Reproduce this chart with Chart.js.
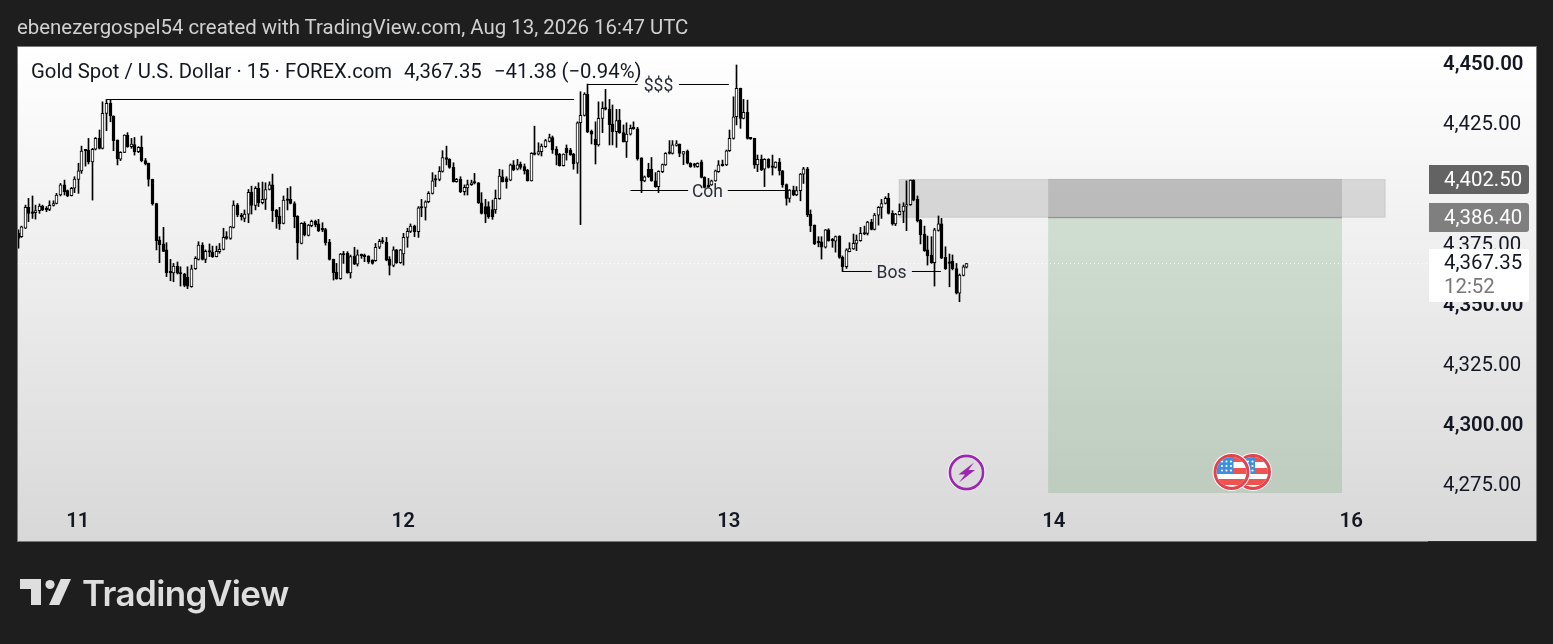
<!DOCTYPE html>
<html>
<head>
<meta charset="utf-8">
<title>Gold Spot / U.S. Dollar</title>
<script src="https://cdn.jsdelivr.net/npm/chart.js@4"></script>
<style>
    html, body { margin: 0; padding: 0; background: #1e1e1e; width: 1553px; height: 644px; overflow: hidden; }
    canvas { position: absolute; left: 0; top: 0; }
    #byline { position: absolute; left: 17px; top: 15px; font: 20.4px Roboto, sans-serif; color: #d1d1d1; line-height: 24px; white-space: nowrap; }
    #logoText { position: absolute; left: 82px; top: 571px; font: 600 35px Inter, sans-serif; color: #dedede; line-height: 44px; letter-spacing: -0.6px; white-space: nowrap; }
    #logoIcon { position: absolute; left: 0; top: 560px; }
</style>
</head>
<body>
<canvas id="goldChart" width="1553" height="644"></canvas>
<div id="byline">ebenezergospel54 created with TradingView.com, Aug 13, 2026 16:47 UTC</div>
<svg id="logoIcon" width="80" height="60" fill="#dedede">
    <path d="M20 19H41V45H31V29H20Z"/>
    <circle cx="50" cy="24.5" r="4.6"/>
    <path d="M60.7 19H71L59.3 45H49Z"/>
</svg>
<div id="logoText">TradingView</div>
<script>
const opens = [
    4379.9,4378.5,4382.0,4390.7,4388.5,4388.5,4389.3,4391.2,4390.1,4389.8,
    4391.5,4392.3,4395.8,4400.0,4397.6,4395.5,4398.6,4402.3,4405.8,4414.5,
    4414.5,4409.6,4414.8,4419.3,4415.2,4429.7,4433.9,4428.6,4418.6,4410.7,
    4413.5,4420.6,4415.9,4416.7,4413.8,4415.6,4410.1,4409.0,4402.3,4392.3,
    4377.1,4375.5,4373.0,4363.8,4363.5,4366.3,4363.5,4363.0,4361.6,4357.7,
    4365.2,4369.1,4375.0,4369.1,4372.4,4372.1,4370.2,4372.3,4373.2,4378.5,
    4377.8,4382.4,4391.6,4387.5,4386.1,4387.9,4396.9,4391.5,4398.6,4392.6,
    4394.0,4398.1,4400.0,4389.6,4387.1,4384.0,4394.0,4394.0,4392.3,4387.1,
    4375.7,4384.0,4379.0,4383.1,4384.9,4383.8,4381.5,4381.5,4376.3,4369.1,
    4363.8,4361.1,4371.3,4371.6,4363.5,4370.5,4367.1,4370.9,4370.5,4370.5,
    4368.8,4368.5,4374.1,4376.6,4376.3,4369.1,4366.6,4373.0,4367.7,4371.3,
    4378.2,4380.7,4382.9,4380.6,4390.7,4390.7,4393.0,4396.5,4402.3,4402.3,
    4405.6,4411.4,4410.6,4407.3,4401.3,4402.3,4397.2,4398.8,4400.1,4400.9,
    4400.9,4392.6,4391.0,4391.0,4389.8,4389.6,4394.3,4403.4,4402.6,4402.0,
    4408.3,4406.5,4408.7,4407.6,4406.2,4401.7,4413.1,4412.8,4413.8,4415.9,
    4418.1,4419.7,4414.8,4412.8,4408.0,4415.3,4414.5,4412.8,4409.0,4425.8,
    4428.9,4437.7,4422.2,4418.9,4416.6,4427.6,4431.8,4431.5,4425.3,4422.1,
    4426.9,4421.7,4417.9,4421.1,4423.6,4423.3,4411.2,4401.7,4406.5,4406.5,
    4401.7,4399.3,4405.5,4408.3,4413.4,4413.1,4416.4,4417.0,4412.8,4414.1,
    4409.0,4408.4,4407.6,4409.6,4403.1,4399.9,4400.0,4401.7,4405.5,4408.3,
    4408.3,4414.2,4419.3,4428.3,4440.1,4427.6,4430.1,4419.3,4419.3,4408.3,
    4410.6,4406.5,4410.6,4407.6,4407.3,4409.5,4405.9,4400.1,4394.4,4397.9,
    4395.8,4397.6,4404.5,4406.7,4387.8,4383.3,4376.3,4376.4,4374.1,4381.3,
    4377.1,4376.6,4378.8,4369.9,4366.0,4372.3,4373.4,4375.7,4376.8,4379.9,
    4379.9,4384.6,4381.5,4387.4,4390.7,4392.3,4394.4,4388.2,4383.8,4387.6,
    4389.0,4391.2,4391.8,4402.0,4394.0,4385.4,4379.6,4373.0,4370.9,4367.7,
    4381.1,4383.8,4369.9,4367.7,4368.3,4365.3,4355.0,4362.4,4365.8
]
const highs = [
    4381.3,4382.9,4391.6,4394.4,4395.4,4391.6,4392.1,4391.6,4391.0,4393.4,
    4393.4,4396.5,4400.6,4402.0,4397.9,4399.0,4403.4,4409.0,4416.1,4414.6,
    4419.3,4415.2,4419.7,4422.8,4434.5,4435.5,4435.5,4428.7,4418.7,4413.8,
    4420.8,4421.7,4419.3,4419.7,4415.9,4420.3,4411.0,4409.1,4402.4,4392.4,
    4378.5,4382.4,4376.0,4369.1,4367.4,4368.0,4366.0,4363.3,4366.0,4366.7,
    4370.2,4376.4,4376.0,4373.0,4375.5,4374.6,4374.6,4375.7,4382.0,4380.6,
    4382.8,4393.4,4392.3,4388.2,4389.6,4398.1,4399.5,4399.3,4400.9,4401.2,
    4400.9,4401.3,4404.5,4389.8,4390.7,4395.4,4398.6,4399.3,4393.0,4387.2,
    4384.3,4384.7,4383.6,4385.4,4385.4,4385.7,4384.3,4382.0,4377.4,4369.2,
    4367.4,4371.6,4372.4,4372.3,4370.9,4374.1,4373.0,4371.3,4371.3,4370.6,
    4368.9,4375.7,4377.4,4378.2,4378.2,4370.2,4374.3,4373.2,4373.2,4379.9,
    4382.0,4383.8,4383.3,4391.0,4394.0,4393.4,4397.2,4405.1,4404.1,4407.6,
    4414.2,4416.1,4410.9,4409.2,4402.7,4403.4,4400.0,4402.0,4402.0,4404.8,
    4401.0,4396.8,4394.0,4393.0,4393.7,4397.9,4406.5,4406.2,4403.4,4408.7,
    4410.1,4410.6,4409.5,4408.7,4406.5,4413.4,4424.4,4417.5,4417.0,4418.9,
    4421.1,4420.3,4415.9,4413.1,4412.9,4416.6,4415.2,4413.1,4426.2,4438.7,
    4438.3,4441.9,4422.8,4426.2,4434.5,4434.5,4439.7,4435.5,4433.2,4431.4,
    4431.4,4424.9,4425.8,4424.9,4426.2,4423.9,4411.3,4403.7,4409.0,4411.4,
    4405.1,4405.9,4408.7,4413.4,4418.4,4418.4,4418.4,4417.0,4413.9,4414.5,
    4409.2,4409.0,4409.2,4410.3,4403.4,4402.7,4402.0,4406.2,4410.1,4410.3,
    4414.5,4422.8,4436.6,4449.8,4440.2,4435.5,4435.2,4419.4,4419.4,4412.4,
    4412.4,4410.9,4410.9,4412.4,4409.6,4411.0,4406.0,4400.4,4398.1,4399.5,
    4399.3,4404.8,4407.3,4407.3,4389.6,4383.4,4378.5,4378.5,4381.5,4381.8,
    4377.8,4378.8,4378.9,4370.5,4373.5,4376.0,4379.6,4379.2,4382.4,4382.9,
    4384.9,4385.7,4388.2,4391.0,4394.0,4395.1,4396.5,4389.3,4388.2,4392.1,
    4392.6,4401.7,4402.1,4402.1,4395.4,4385.7,4382.9,4378.8,4378.5,4382.0,
    4387.1,4386.1,4374.3,4371.3,4370.9,4367.4,4363.0,4366.7,4367.4
]
const lows = [
    4373.7,4378.2,4381.9,4384.7,4386.1,4385.8,4388.2,4389.3,4388.9,4389.3,
    4391.2,4392.1,4395.4,4395.8,4395.1,4395.4,4396.8,4396.5,4404.8,4407.8,
    4408.7,4393.7,4414.5,4414.9,4414.9,4422.5,4426.2,4414.2,4408.3,4410.1,
    4413.4,4415.6,4415.2,4412.4,4413.4,4409.6,4408.3,4399.5,4391.6,4373.0,
    4367.7,4372.3,4361.9,4360.2,4359.8,4363.0,4358.0,4357.7,4356.9,4357.5,
    4364.9,4368.8,4368.8,4367.7,4370.2,4369.9,4370.1,4371.6,4373.0,4377.4,
    4377.4,4382.1,4386.8,4385.4,4384.7,4384.3,4387.9,4389.6,4391.0,4392.1,
    4389.8,4397.9,4384.7,4382.0,4381.5,4383.8,4389.6,4392.1,4382.2,4369.1,
    4375.5,4378.8,4378.8,4382.6,4382.6,4380.6,4380.6,4375.0,4368.8,4360.5,
    4360.8,4360.8,4367.4,4363.3,4361.3,4366.9,4366.3,4369.5,4368.1,4367.4,
    4367.1,4368.3,4373.5,4375.7,4368.5,4362.6,4366.0,4367.4,4367.4,4366.7,
    4374.1,4380.2,4378.5,4378.2,4386.8,4385.4,4392.6,4396.2,4399.3,4401.7,
    4405.3,4408.3,4406.9,4401.2,4401.1,4396.8,4395.8,4395.8,4399.8,4400.4,
    4392.3,4387.9,4384.3,4386.1,4385.7,4388.2,4394.0,4401.2,4398.6,4401.7,
    4405.9,4406.2,4406.5,4404.5,4401.6,4401.6,4412.4,4412.4,4412.0,4415.6,
    4417.8,4413.1,4408.3,4407.8,4407.8,4410.3,4412.3,4406.5,4404.8,4383.5,
    4428.6,4421.7,4417.0,4408.7,4416.1,4421.7,4431.1,4416.6,4416.6,4415.6,
    4421.4,4417.8,4411.4,4420.7,4423.1,4410.3,4396.8,4401.3,4403.1,4401.5,
    4399.0,4396.8,4405.1,4408.1,4412.8,4412.8,4416.1,4411.7,4408.4,4408.7,
    4407.3,4407.3,4407.3,4402.9,4398.7,4399.0,4399.8,4401.5,4405.2,4407.8,
    4408.0,4413.9,4419.0,4424.9,4423.5,4427.4,4419.0,4418.9,4406.9,4405.5,
    4405.9,4399.3,4407.0,4404.1,4407.0,4404.1,4399.0,4391.6,4392.8,4395.5,
    4395.5,4393.4,4400.6,4386.8,4380.6,4375.2,4374.3,4369.2,4373.8,4376.6,
    4374.1,4372.1,4369.5,4364.0,4365.3,4372.2,4373.2,4372.7,4376.6,4379.3,
    4379.2,4381.3,4381.3,4383.3,4386.1,4392.1,4387.9,4383.3,4383.1,4387.5,
    4384.3,4381.0,4391.5,4393.4,4384.6,4375.5,4372.4,4366.7,4367.4,4358.0,
    4380.8,4369.4,4364.9,4357.7,4364.7,4354.7,4351.5,4362.2,4365.5
]
const closes = [
    4377.8,4382.6,4390.7,4388.2,4388.2,4389.3,4391.2,4389.6,4389.7,4391.5,
    4392.3,4395.8,4400.0,4397.2,4395.4,4398.6,4402.4,4405.8,4414.1,4414.2,
    4409.6,4414.8,4419.3,4415.2,4429.7,4433.9,4428.6,4418.4,4410.9,4413.5,
    4420.7,4415.9,4417.0,4413.8,4415.6,4410.1,4408.7,4402.3,4392.1,4376.8,
    4375.2,4372.4,4363.5,4363.5,4366.3,4363.3,4363.0,4358.3,4358.0,4365.2,
    4369.5,4375.0,4369.1,4372.4,4372.1,4370.2,4372.4,4373.2,4378.2,4377.8,
    4382.6,4391.6,4387.5,4386.8,4387.9,4396.9,4391.5,4398.6,4392.6,4394.0,
    4398.1,4400.0,4389.3,4386.8,4383.8,4393.7,4393.6,4392.3,4386.8,4376.0,
    4384.0,4379.3,4383.3,4384.9,4383.5,4381.0,4381.3,4376.0,4369.1,4363.5,
    4361.1,4371.3,4370.9,4363.5,4370.2,4367.1,4371.0,4370.6,4370.2,4368.1,
    4367.4,4374.1,4376.6,4376.3,4368.8,4366.6,4373.0,4367.7,4373.0,4378.2,
    4380.7,4382.9,4380.6,4390.5,4390.4,4393.0,4396.5,4401.7,4402.0,4405.6,
    4411.4,4410.6,4407.3,4401.3,4402.3,4397.2,4399.0,4400.1,4400.9,4400.8,
    4392.6,4388.2,4387.9,4386.8,4386.8,4394.4,4403.7,4401.3,4401.3,4408.3,
    4406.2,4408.3,4407.3,4405.9,4401.7,4413.1,4412.7,4413.8,4416.1,4418.4,
    4419.7,4414.5,4412.4,4408.0,4412.8,4413.4,4412.5,4408.7,4425.8,4428.9,
    4437.7,4422.0,4421.1,4416.6,4427.6,4431.8,4431.5,4425.0,4422.1,4426.7,
    4421.7,4417.9,4421.1,4423.5,4423.3,4410.9,4401.7,4403.4,4403.4,4401.7,
    4399.3,4405.6,4408.4,4413.1,4413.1,4416.6,4416.6,4413.1,4413.8,4409.0,
    4407.6,4408.1,4409.0,4403.1,4399.0,4399.3,4401.7,4405.9,4408.3,4408.0,
    4414.2,4419.3,4428.3,4440.1,4427.6,4430.1,4419.3,4419.1,4408.3,4410.6,
    4406.2,4410.6,4407.3,4407.3,4409.5,4405.9,4400.1,4394.4,4397.9,4395.8,
    4397.6,4404.5,4406.7,4387.5,4383.1,4375.5,4376.0,4374.1,4381.3,4376.8,
    4376.8,4378.5,4369.9,4366.0,4373.0,4373.6,4375.7,4377.1,4379.9,4379.6,
    4384.6,4381.5,4387.5,4390.7,4392.3,4394.4,4388.2,4383.8,4387.9,4389.0,
    4391.2,4391.8,4402.0,4393.7,4385.1,4379.3,4372.7,4370.5,4367.7,4381.3,
    4383.8,4369.6,4365.2,4367.4,4365.2,4355.0,4362.6,4366.0,4367.35
]

// axis ticks
const priceTicks = [4450, 4425, 4400, 4375, 4350, 4325, 4300, 4275]
const boldPrices = [4450, 4350, 4300]
const dayLabels = ['11', '12', '13', '14', '16']
const dayBars = [16.9, 108.8, 200.8, 292.6, 376.6]

const lastPrice = 4367.35
const countdown = '12:52'
const stopPrice = 4402.5
const entryPrice = 4386.4
const targetPrice = 4272.05
const lastBar = 398.3

// hand drawn levels: [from bar, to bar, price]
const levelLines = [
    [25.1, 157.1, 4435.47],
    [161, 175.05, 4441.7], [186.7, 200.8, 4441.7],
    [173, 189.3, 4397.68], [200.5, 217.2, 4397.68],
    [233, 241.2, 4364.05], [252.5, 260.7, 4364.05]
]
const levelNames = ['$$$', 'Coh', 'Bos']
const levelNameBars = [180.8, 194.6, 246.6]
const levelNamePrices = [4441.7, 4397.68, 4364.05]

const bodies = opens.map((o, i) => ({ x: i, y: [o, closes[i]] }))
const wicks = lows.map((l, i) => ({ x: i, y: [l, highs[i]] }))
const bodyColors = opens.map((o, i) => (closes[i] >= o ? '#ffffff' : '#000000'))

const levelSets = levelLines.map(([from, to, price]) => ({
    type: 'line',
    data: [{ x: from, y: price }, { x: to, y: price }],
    borderColor: '#000000',
    borderWidth: 1,
    pointRadius: 0,
    order: 0
}))

const drawFlag = (ctx, x, y) => {
    ctx.save()
    ctx.beginPath()
    ctx.arc(x, y, 19, 0, Math.PI * 2)
    ctx.fillStyle = '#ffffff'
    ctx.fill()
    ctx.beginPath()
    ctx.arc(x, y, 18, 0, Math.PI * 2)
    ctx.fillStyle = '#e2434f'
    ctx.fill()
    ctx.beginPath()
    ctx.arc(x, y, 15, 0, Math.PI * 2)
    ctx.fillStyle = '#ffffff'
    ctx.fill()
    ctx.clip()
    ctx.fillStyle = '#ef5350'
    ctx.fillRect(x - 15, y - 4, 30, 6)
    ctx.fillRect(x - 15, y + 7, 30, 6)
    ctx.fillRect(x, y - 15, 15, 5)
    ctx.fillStyle = '#3d8fe0'
    ctx.fillRect(x - 15, y - 15, 17, 17)
    ctx.fillStyle = '#ffffff'
    for (let r = 0; r < 3; r++) {
        for (let c = 0; c < 3; c++) {
            ctx.beginPath()
            ctx.arc(x - 9.5 + c * 4.5, y - 10.5 + r * 4.5, 1.1, 0, Math.PI * 2)
            ctx.fill()
        }
    }
    ctx.restore()
}

const drawBolt = (ctx, x, y) => {
    ctx.beginPath()
    ctx.arc(x, y, 18.8, 0, Math.PI * 2)
    ctx.fillStyle = '#ffffff'
    ctx.fill()
    ctx.beginPath()
    ctx.arc(x, y, 16.6, 0, Math.PI * 2)
    ctx.fillStyle = '#dcdcdc'
    ctx.fill()
    ctx.lineWidth = 2.6
    ctx.strokeStyle = '#9c27b0'
    ctx.stroke()
    ctx.beginPath()
    ctx.moveTo(x + 7.5, y - 10)
    ctx.lineTo(x - 8, y + 2)
    ctx.lineTo(x - 1.5, y + 2)
    ctx.lineTo(x - 7.5, y + 10)
    ctx.lineTo(x + 8.5, y - 2.5)
    ctx.lineTo(x + 2, y - 2.5)
    ctx.closePath()
    ctx.fillStyle = '#9c27b0'
    ctx.fill()
}

// frame, zones, and things TradingView paints over the scale
const tvPaint = {
    id: 'tvPaint',
    beforeDraw(chart) {
        const { ctx } = chart
        const g = ctx.createLinearGradient(0, 47, 0, 541)
        g.addColorStop(0, '#ffffff')
        g.addColorStop(1, '#d8d8d8')
        ctx.fillStyle = '#787878'
        ctx.fillRect(17, 46, 1520, 496)
        ctx.fillStyle = '#2e2e2e'
        ctx.fillRect(1428, 541, 109, 1)
        ctx.fillStyle = g
        ctx.fillRect(18, 47, 1518, 494)
    },
    // candles sit on whole pixels, as they do on TradingView
    afterDatasetsUpdate(chart) {
        [0, 1].forEach((index) => {
            chart.getDatasetMeta(index).data.forEach((bar) => {
                bar.x = Math.floor(bar.x) + 0.5
            })
        })
    },
    beforeDatasetsDraw(chart) {
        const { ctx, scales: { x, y } } = chart
        const stopY = y.getPixelForValue(stopPrice)
        const entryY = y.getPixelForValue(entryPrice)
        const targetY = y.getPixelForValue(targetPrice)

        ctx.fillStyle = 'rgba(76, 140, 80, 0.2)'
        ctx.fillRect(x.getPixelForValue(291), entryY, x.getPixelForValue(374) - x.getPixelForValue(291), targetY - entryY)

        ctx.fillStyle = 'rgba(120, 120, 120, 0.23)'
        ctx.strokeStyle = 'rgba(120, 120, 120, 0.2)'
        ctx.fillRect(x.getPixelForValue(248.9), stopY + 0.6, x.getPixelForValue(386.2) - x.getPixelForValue(248.9), entryY - stopY - 1)
        ctx.strokeRect(x.getPixelForValue(248.9), stopY + 0.6, x.getPixelForValue(386.2) - x.getPixelForValue(248.9), entryY - stopY - 1)

        ctx.fillStyle = 'rgba(80, 80, 80, 0.2)'
        ctx.fillRect(x.getPixelForValue(291), stopY, x.getPixelForValue(374) - x.getPixelForValue(291), entryY - stopY)
        ctx.fillStyle = '#8a8a8a'
        ctx.fillRect(x.getPixelForValue(291), entryY - 0.5, x.getPixelForValue(374) - x.getPixelForValue(291), 1)
    },
    afterDatasetsDraw(chart) {
        const { ctx, scales: { x, y } } = chart
        ctx.save()
        ctx.font = '17.5px Roboto, sans-serif'
        ctx.textAlign = 'center'
        ctx.textBaseline = 'middle'
        ctx.fillStyle = '#2a2e39'
        levelNames.forEach((name, i) => {
            ctx.fillText(name, x.getPixelForValue(levelNameBars[i]) + 0.5, y.getPixelForValue(levelNamePrices[i]) + 2)
        })
        ctx.restore()
    },
    afterDraw(chart) {
        const { ctx } = chart
        ctx.save()

        ctx.font = '20.3px Roboto, sans-serif'
        ctx.textBaseline = 'middle'
        ctx.fillStyle = '#131722'
        ctx.fillText('Gold Spot / U.S. Dollar \u00b7 15 \u00b7 FOREX.com', 31, 73)
        ctx.fillText('4,367.35', 404, 73)
        ctx.fillText('\u221241.38 (\u22120.94%)', 494, 73)

        drawBolt(ctx, 966.5, 472.5)
        drawFlag(ctx, 1253, 472)
        drawFlag(ctx, 1231.5, 472)

        ctx.font = '20.4px Roboto, sans-serif'
        const tag = (color, top, h) => {
            ctx.fillStyle = color
            ctx.beginPath()
            ctx.roundRect(1429, top, 100, h, [0, 3, 3, 0])
            ctx.fill()
        }
        tag('#636363', 165, 29)
        tag('#7f7f7f', 203, 29)
        tag('#ffffff', 249, 53)
        ctx.fillStyle = '#ffffff'
        ctx.fillText('4,402.50', 1444, 181)
        ctx.fillText('4,386.40', 1444, 219)
        ctx.fillStyle = '#131722'
        ctx.fillText('4,367.35', 1444, 264)
        ctx.fillStyle = '#777777'
        ctx.fillText(countdown, 1444, 288)
        ctx.restore()
    }
}

new Chart(document.getElementById('goldChart'), {
    type: 'bar',
    data: {
        datasets: [
            {
                data: wicks,
                backgroundColor: '#000000',
                barThickness: 1,
                grouped: false,
                order: 2
            },
            {
                data: bodies,
                backgroundColor: bodyColors,
                borderColor: '#000000',
                borderWidth: 1,
                borderSkipped: false,
                barThickness: 3,
                minBarLength: 1.5,
                grouped: false,
                order: 1
            },
            {
                type: 'line',
                data: [{ x: 0, y: lastPrice }, { x: lastBar, y: lastPrice }],
                borderColor: '#ffffff',
                borderWidth: 1,
                borderDash: [1, 3],
                pointRadius: 0,
                order: 3
            },
            ...levelSets
        ]
    },
    options: {
        responsive: false,
        animation: false,
        layout: { padding: { left: 18, top: 47, right: 0, bottom: 103 } },
        plugins: {
            legend: { display: false },
            tooltip: { enabled: false }
        },
        scales: {
            x: {
                type: 'linear',
                offset: false,
                min: 0,
                max: lastBar,
                grid: { display: false },
                border: { display: false },
                afterFit: (scale) => { scale.height = 45 },
                afterBuildTicks: (scale) => {
                    scale.ticks = dayBars.map((value) => ({ value }))
                },
                ticks: {
                    autoSkip: false,
                    maxRotation: 0,
                    padding: 6,
                    color: '#131722',
                    font: { family: 'Roboto', size: 20.4, weight: '600' },
                    callback: (value) => dayLabels[dayBars.indexOf(value)]
                }
            },
            y: {
                position: 'right',
                min: 4270.82,
                max: 4457.27,
                grid: { display: false, drawTicks: false },
                border: { display: false },
                afterFit: (scale) => { scale.width = 125 },
                afterBuildTicks: (scale) => {
                    scale.ticks = priceTicks.map((value) => ({ value }))
                },
                ticks: {
                    padding: 15,
                    labelOffset: 0.4,
                    color: '#131722',
                    font: (ctx) => ({
                        family: 'Roboto',
                        size: 20.4,
                        weight: boldPrices.includes(ctx.tick && ctx.tick.value) ? '600' : '400'
                    }),
                    callback: (value) => value.toLocaleString('en-US', { minimumFractionDigits: 2 })
                }
            }
        }
    },
    plugins: [tvPaint]
})
</script>
</body>
</html>
